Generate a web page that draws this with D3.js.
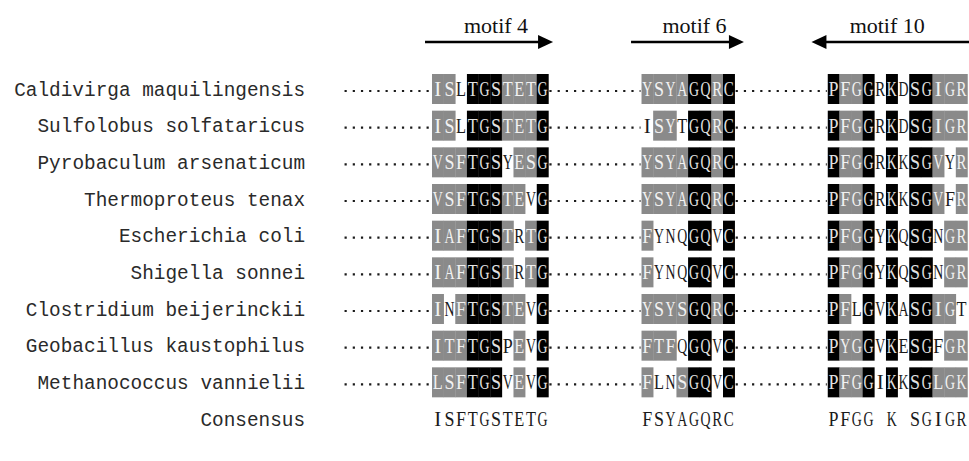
<!DOCTYPE html>
<html>
<head>
<meta charset="utf-8">
<script src="https://cdn.jsdelivr.net/npm/d3@7"></script>
<style>
  html, body { margin: 0; padding: 0; background: #fff; }
  svg { display: block; }
</style>
</head>
<body>
<svg id="chart" width="969" height="461"></svg>
<script>
// Species in alignment order
const species = [
  "Caldivirga maquilingensis",
  "Sulfolobus solfataricus",
  "Pyrobaculum arsenaticum",
  "Thermoproteus tenax",
  "Escherichia coli",
  "Shigella sonnei",
  "Clostridium beijerinckii",
  "Geobacillus kaustophilus",
  "Methanococcus vannielii"
];

// Motif headers: name and reading direction (1 = forward, -1 = reverse)
const motifNames = ["motif 4", "motif 6", "motif 10"];
const motifDirections = [1, 1, -1];

// Residues per motif, one string per species
const motif4Seqs = ["ISLTGSTETG", "ISLTGSTETG", "VSFTGSYESG", "VSFTGSTEVG", "IAFTGSTRTG",
                    "IAFTGSTRTG", "INFTGSTEVG", "ITFTGSPEVG", "LSFTGSVEVG"];
const motif6Seqs = ["YSYAGQRC", "ISYTGQRC", "YSYAGQRC", "YSYAGQRC", "FYNQGQVC",
                    "FYNQGQVC", "YSYSGQRC", "FTFQGQVC", "FLNSGQVC"];
const motif10Seqs = ["PFGGRKDSGIGR", "PFGGRKDSGIGR", "PFGGRKKSGVYR", "PFGGRKKSGVFR", "PFGGYKQSGNGR",
                     "PFGGYKQSGNGR", "PFLGVKASGIGT", "PYGGVKESGFGR", "PFGGIKKSGLGK"];

// Conservation class per residue: b = identical, g = similar, . = not conserved
const motif4Shade = ["gg.bbbgggb", "gg.bbbgggb", "gggbbb.ggb", "gggbbbgg.b", "gggbbbg.gb",
                     "gggbbbg.gb", "g.gbbbgg.b", "gggbbb.g.b", "gggbbb.g.b"];
const motif6Shade = ["ggggbbgb", ".gg.bbgb", "ggggbbgb", "ggggbbgb", "g...bb.b",
                     "g...bb.b", "ggggbbgb", "ggg.bb.b", "g..gbb.b"];
const motif10Shade = ["bggb.b.bbggg", "bggb.b.bbggg", "bggb.b.bbg.g", "bggb.b.bbg.g", "bggb.b.bb.gg",
                      "bggb.b.bb.gg", "bg.b.b.bbgg.", "bggb.b.bb.gg", "bggb.b.bbggg"];

// Consensus line under the alignment
const consensusLabel = "Consensus";
const consensus = ["ISFTGSTETG", "FSYAGQRC", "PFGG K SGIGR"];

// First alignment column of each motif block
const motifStartCols = [0, 18, 34];

// ---------------------------------------------------------------------------
const motifs = [
  { seqs: motif4Seqs, shade: motif4Shade },
  { seqs: motif6Seqs, shade: motif6Shade },
  { seqs: motif10Seqs, shade: motif10Shade }
].map((m, i) => ({
  ...m,
  name: motifNames[i],
  dir: motifDirections[i],
  start: motifStartCols[i],
  len: m.seqs[0].length,
  consensus: consensus[i]
}));

const W = 969, H = 461;
const svg = d3.select("#chart");

// One alignment column = one monospaced character cell
const cell = 11.64;
const x = d3.scaleLinear().domain([0, 1]).range([432, 432 + cell]);

// Rows: species followed by the consensus line
const rowKeys = species.concat([consensusLabel]);
const y = d3.scalePoint().domain(rowKeys).range([89, 419]);

const fill = { b: "#000000", g: "#8a8a8a" };
const textOn = { b: "#e2e2e2", g: "#f2f2f2", ".": "#1a1a1a" };
const monoFont = "'Liberation Mono', 'DejaVu Sans Mono', monospace";
const serifFont = "'Liberation Serif', 'DejaVu Serif', serif";
const fontSize = 19.4;
const resSize = 21;
const glyphW = cell * 0.86;
const boxH = 30;

// Species labels, right aligned
svg.append("g")
  .selectAll("text")
  .data(rowKeys)
  .join("text")
  .attr("x", x(-10.9))
  .attr("y", d => y(d))
  .attr("dy", "0.35em")
  .attr("text-anchor", "end")
  .attr("font-family", monoFont)
  .attr("font-size", fontSize)
  .attr("fill", "#2a2a2a")
  .text(d => d);

// Dotted connectors before and between motif blocks
const gaps = [[-7.6, 0]];
motifs.forEach((m, i) => {
  if (i < motifs.length - 1) gaps.push([m.start + m.len, motifs[i + 1].start]);
});
const dotG = svg.append("g");
species.forEach(sp => {
  dotG.selectAll(null)
    .data(gaps)
    .join("line")
    .attr("x1", d => x(d[0]) + 1)
    .attr("x2", d => x(d[1]) - 1)
    .attr("y1", y(sp) + 2)
    .attr("y2", y(sp) + 2)
    .attr("stroke", "#1a1a1a")
    .attr("stroke-width", 2.2)
    .attr("stroke-dasharray", "2.2,6");
});

// Residue cells
const cells = [];
motifs.forEach(m => {
  species.forEach((sp, r) => {
    const seq = m.seqs[r], sh = m.shade[r];
    for (let k = 0; k < seq.length; k++) {
      cells.push({ sp, col: m.start + k, aa: seq[k], cls: sh[k] });
    }
  });
});

// Draw residue letters centred in their column, condensed horizontally
// so that each serif glyph fits inside one cell
function residue(sel, rowY) {
  sel.attr("x", 0)
    .attr("y", 0)
    .attr("dy", "0.34em")
    .attr("text-anchor", "middle")
    .attr("font-family", serifFont)
    .attr("font-size", resSize)
    .text(d => d.aa)
    .each(function (d) {
      const w = this.getComputedTextLength();
      const sx = Math.min(1, glyphW / w);
      d3.select(this).attr("transform",
        `translate(${x(d.col + 0.5)},${rowY(d)}) scale(${sx},1)`);
    });
}

const cellG = svg.append("g");
cellG.selectAll("rect")
  .data(cells.filter(d => d.cls !== "."))
  .join("rect")
  .attr("x", d => x(d.col))
  .attr("y", d => y(d.sp) - boxH / 2)
  .attr("width", x(1) - x(0) + 0.3)
  .attr("height", boxH)
  .attr("fill", d => fill[d.cls]);

cellG.selectAll("text")
  .data(cells)
  .join("text")
  .attr("fill", d => textOn[d.cls])
  .call(residue, d => y(d.sp));

// Consensus residues
const consCells = [];
motifs.forEach(m => {
  for (let k = 0; k < m.consensus.length; k++) {
    if (m.consensus[k] !== " ") consCells.push({ col: m.start + k, aa: m.consensus[k] });
  }
});
svg.append("g")
  .selectAll("text")
  .data(consCells)
  .join("text")
  .attr("fill", "#1a1a1a")
  .call(residue, () => y(consensusLabel));

// Motif headers with direction arrows
const headerY = 33, arrowY = 42;
const arrowSpans = [[-0.6, 10.4], [17.1, 26.8], [32.6, 46.5]];
const hdr = svg.append("g");
motifs.forEach((m, i) => {
  const [c0, c1] = arrowSpans[i];
  const xa = x(c0), xb = Math.min(x(c1), W);
  const tip = m.dir > 0 ? xb : xa;
  const back = m.dir > 0 ? xa : xb;
  const head = 15 * m.dir;
  hdr.append("line")
    .attr("x1", back).attr("x2", tip - head * 0.8)
    .attr("y1", arrowY).attr("y2", arrowY)
    .attr("stroke", "#000").attr("stroke-width", 2.5);
  hdr.append("path")
    .attr("d", `M${tip},${arrowY} L${tip - head},${arrowY - 7} L${tip - head},${arrowY + 7} Z`)
    .attr("fill", "#000");
  hdr.append("text")
    .attr("x", (xa + xb) / 2 + (m.dir > 0 ? 7 : -3))
    .attr("y", headerY)
    .attr("text-anchor", "middle")
    .attr("font-family", serifFont)
    .attr("font-size", 22)
    .attr("fill", "#111")
    .text(m.name);
});
</script>
</body>
</html>
